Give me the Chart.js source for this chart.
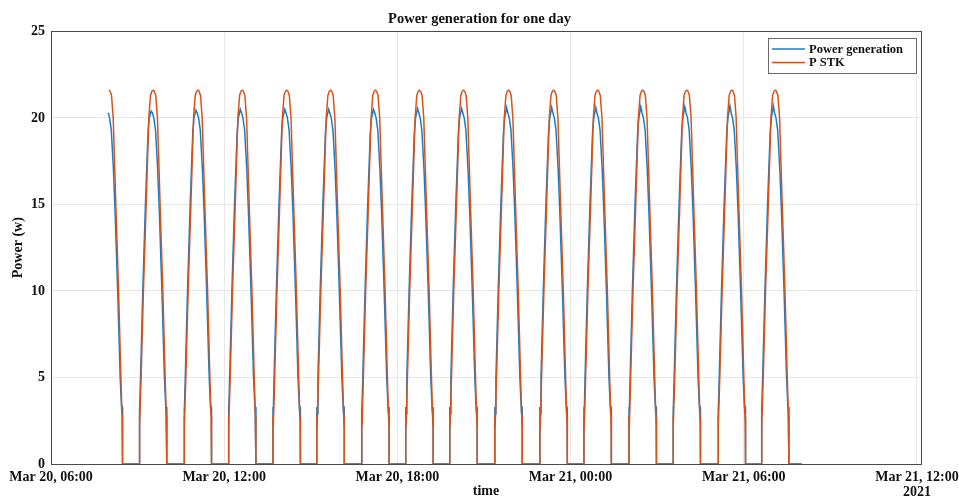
<!DOCTYPE html>
<html>
<head>
<meta charset="utf-8">
<title>Power generation for one day</title>
<script src="https://cdn.jsdelivr.net/npm/chart.js@4.4.1/dist/chart.umd.min.js"></script>
<style>
  html, body { margin: 0; padding: 0; background: #fff; }
  #wrap { width: 959px; height: 500px; position: relative; }
</style>
</head>
<body>
<div id="wrap"><canvas id="powerChart"></canvas></div>
<script>
// time axis is in hours counted from Mar 20, 00:00
const xTickHours = [6, 12, 18, 24, 30, 36];
const xTickLabels = ['Mar 20, 06:00', 'Mar 20, 12:00', 'Mar 20, 18:00', 'Mar 21, 00:00', 'Mar 21, 06:00', 'Mar 21, 12:00'];
const yearLabel = '2021';

// each stack run: switch-on time (h); the first run is already on when logging starts
const pulseStart = [7.53, 9.063, 10.613, 12.150, 13.690, 15.209, 16.763, 18.289,
                    19.815, 21.376, 22.937, 24.463, 26.024, 27.550, 29.111, 30.616];
// top of the generated power curve for each run (W)
const genPeak = [20.4, 20.4, 20.45, 20.5, 20.5, 20.5, 20.5, 20.55,
                 20.55, 20.6, 20.6, 20.6, 20.65, 20.65, 20.7, 20.7];
const logStart = 7.97;
const logEnd = 32.0;

// one run, minutes after switch-on -> P STK (W)
const stkMin = [0, 0, 0.7, 3.5, 8.3, 14, 19.5, 23, 26, 28.5, 31, 34, 37.5, 43, 48.7, 53.5, 55.8, 56.4, 57, 57];
const stkVal = [0, 2.8, 2.15, 5.0, 10, 15, 20, 21.3, 21.55, 21.6, 21.55, 21.3, 20, 15, 10, 5, 2.8, 2.2, 2.7, 0];
// one run, minutes after switch-on -> generated power (W); 'peak' takes genPeak[i]
const genMin = [0, 0, 0.6, 2.3, 7, 12.5, 18, 20.5, 24.5, 27, 30, 33.5, 38, 41.5, 47, 52, 54.6, 55.6, 57, 57];
const genVal = [0, 3.3, 2.9, 5.0, 10, 15, 19.2, 20.0, 'peak', 20.3, 20.0, 19.3, 17, 14.5, 9.8, 5, 3.4, 2.9, 3.3, 0];

function buildSeries(mins, vals) {
    const pts = [];
    pulseStart.forEach((t0, i) => {
        mins.forEach((m, j) => {
            const t = t0 + m / 60;
            if (t < logStart) return;
            pts.push({ x: t, y: vals[j] === 'peak' ? genPeak[i] : vals[j] });
        });
    });
    pts.push({ x: logEnd, y: 0 });
    return pts;
}

const serif = "'Liberation Serif', 'Times New Roman', serif";
const axisColor = '#4a4a4a';
const gridColor = '#e8e8e8';

// box round the plot area plus the year under the last tick
const frame = {
    id: 'frame',
    afterDraw(chart) {
        const { ctx, chartArea: a } = chart;
        ctx.save();
        ctx.strokeStyle = axisColor;
        ctx.lineWidth = 1;
        ctx.strokeRect(Math.round(a.left) + 0.5, Math.round(a.top) + 0.5,
                       Math.round(a.right - a.left), Math.round(a.bottom - a.top));
        const xs = chart.scales.x;
        ctx.fillStyle = '#111';
        ctx.font = `bold 14px ${serif}`;
        ctx.textAlign = 'center';
        ctx.textBaseline = 'middle';
        ctx.fillText(yearLabel, xs.getPixelForValue(36), 492);
        ctx.restore();
    }
};

// legend box in the top right corner of the plot
const legendBox = {
    id: 'legendBox',
    afterDraw(chart) {
        const { ctx } = chart;
        const x0 = 768, y0 = 38, w = 148, h = 35;
        ctx.save();
        ctx.fillStyle = '#fff';
        ctx.fillRect(x0, y0, w, h);
        ctx.strokeStyle = '#6a6a6a';
        ctx.lineWidth = 1;
        ctx.strokeRect(x0 + 0.5, y0 + 0.5, w, h);
        ctx.font = `bold 12.5px ${serif}`;
        ctx.textBaseline = 'middle';
        ctx.textAlign = 'left';
        chart.data.datasets.forEach((ds, i) => {
            const y = y0 + 11 + i * 13.5;
            ctx.strokeStyle = ds.borderColor;
            ctx.lineWidth = 1.5;
            ctx.beginPath();
            ctx.moveTo(x0 + 4, y);
            ctx.lineTo(x0 + 37, y);
            ctx.stroke();
            ctx.fillStyle = '#111';
            ctx.fillText(ds.label, x0 + 41, y + 0.5);
        });
        ctx.restore();
    }
};

new Chart(document.getElementById('powerChart'), {
    type: 'line',
    data: {
        datasets: [{
            label: 'Power generation',
            data: buildSeries(genMin, genVal),
            borderColor: '#1a7cc2',
            borderWidth: 1.5,
            pointRadius: 0,
            tension: 0,
            order: 1
        }, {
            label: 'P STK',
            data: buildSeries(stkMin, stkVal),
            borderColor: '#D95319',
            borderWidth: 1.5,
            pointRadius: 0,
            tension: 0,
            order: 0
        }]
    },
    options: {
        responsive: true,
        maintainAspectRatio: false,
        animation: false,
        layout: { padding: 0 },
        plugins: {
            legend: { display: false },
            tooltip: { enabled: false },
            title: {
                display: true,
                text: 'Power generation for one day',
                color: '#111',
                font: { family: serif, size: 14.5, weight: 'bold' },
                padding: { top: 11, bottom: 3 }
            }
        },
        scales: {
            x: {
                type: 'linear',
                min: 6,
                max: 36.14,
                afterBuildTicks: scale => { scale.ticks = xTickHours.map(v => ({ value: v })); },
                afterFit: scale => { scale.height = 36; scale.paddingLeft = 0; scale.paddingRight = 38; },
                ticks: {
                    callback: (v, i) => xTickLabels[i],
                    autoSkip: false,
                    maxRotation: 0,
                    padding: 5,
                    color: '#111',
                    font: { family: serif, size: 14, weight: 'bold' }
                },
                grid: { color: gridColor, drawTicks: false },
                border: { color: axisColor },
                title: {
                    display: true,
                    text: 'time',
                    color: '#111',
                    font: { family: serif, size: 14, weight: 'bold' },
                    padding: { top: -5, bottom: 0 }
                }
            },
            y: {
                min: 0,
                max: 25,
                afterFit: scale => { scale.width = 51; },
                ticks: {
                    stepSize: 5,
                    padding: 6,
                    color: '#111',
                    font: { family: serif, size: 14, weight: 'bold' }
                },
                grid: { color: gridColor, drawTicks: false },
                border: { color: axisColor },
                title: {
                    display: true,
                    text: 'Power (w)',
                    color: '#111',
                    font: { family: serif, size: 14, weight: 'bold' },
                    padding: { top: 10, bottom: 0 }
                }
            }
        }
    },
    plugins: [frame, legendBox]
});
</script>
</body>
</html>
